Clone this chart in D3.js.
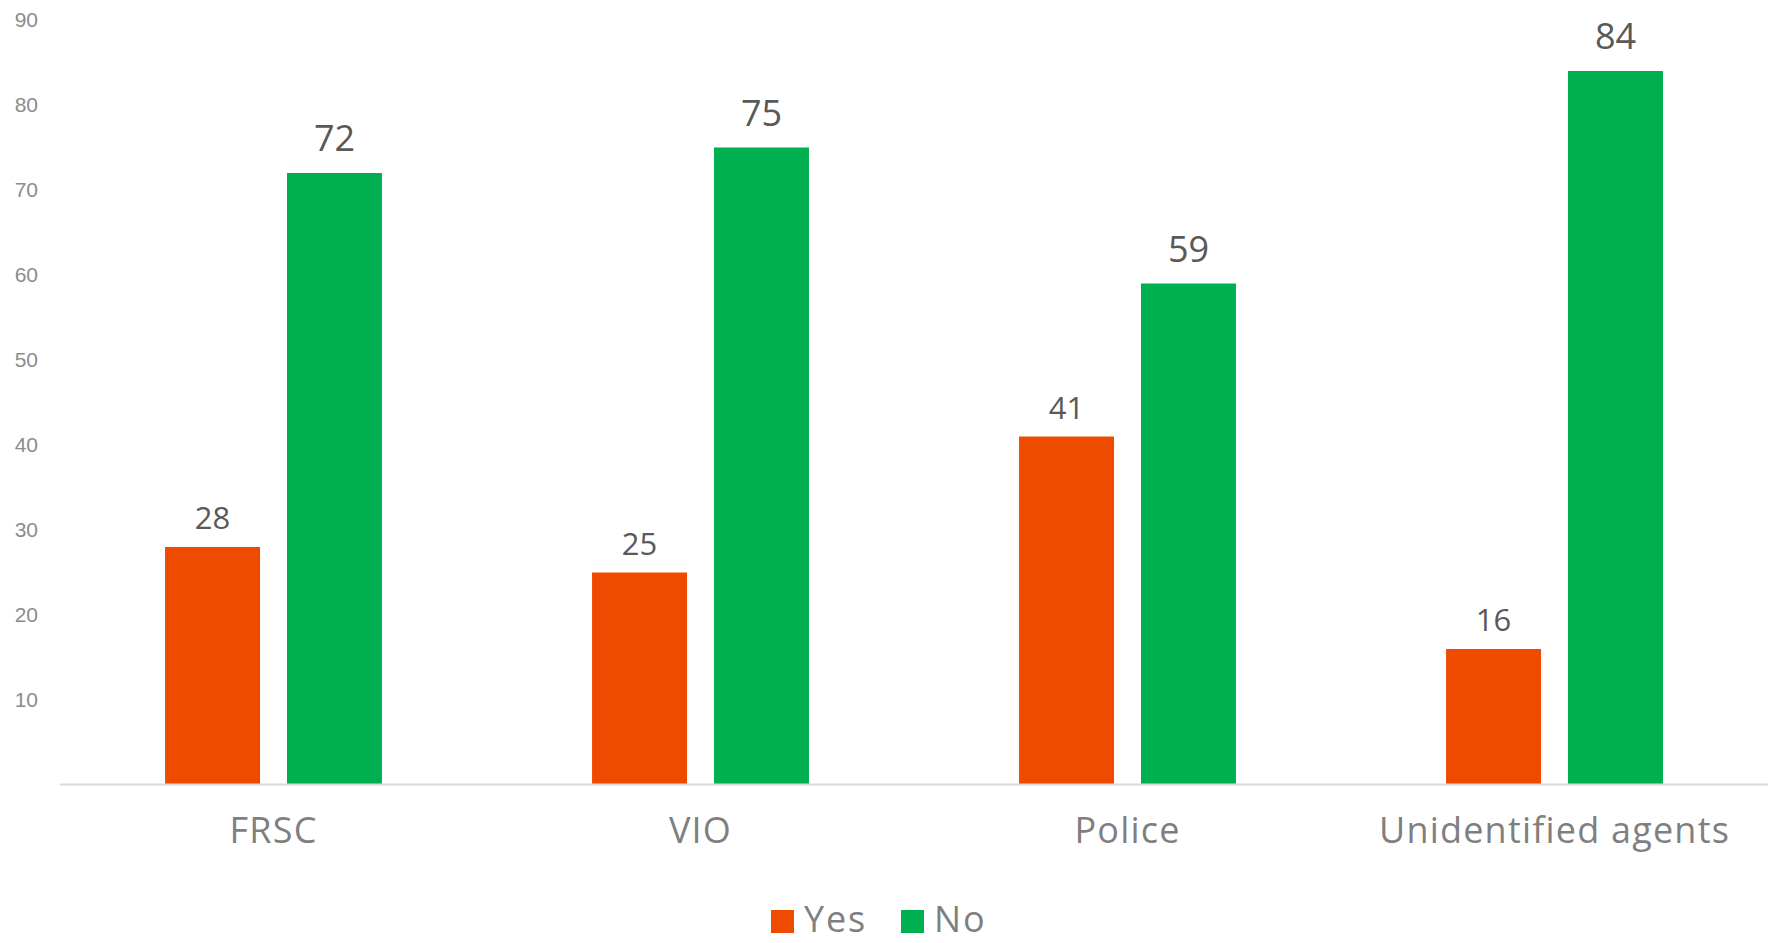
<!DOCTYPE html>
<html>
<head>
<meta charset="utf-8">
<script src="https://cdn.jsdelivr.net/npm/d3@7"></script>
<style>
  body { margin: 0; background: #fff; }
  text { font-family: "Century Gothic", "Open Sans", sans-serif; }
</style>
</head>
<body>
<div id="chart"></div>
<script>
// chart data
var categories = ["FRSC", "VIO", "Police", "Unidentified agents"];
var seriesNames = ["Yes", "No"];
var yesValues = [28, 25, 41, 16];
var noValues = [72, 75, 59, 84];
var yTicks = [10, 20, 30, 40, 50, 60, 70, 80, 90];
var colors = {Yes: "#EF4B00", No: "#00AF50"};

var W = 1774, H = 943;
var margin = {top: 20, right: 6, bottom: 158, left: 60},
    width = W - margin.left - margin.right,
    height = H - margin.top - margin.bottom;

var rows = categories.map(function(c, i) {
    return {cat: c, Yes: yesValues[i], No: noValues[i]};
});

var svg = d3.select("#chart").append("svg")
    .attr("width", W)
    .attr("height", H)
    .append("g")
    .attr("transform", "translate(" + margin.left + "," + margin.top + ")");

var x0 = d3.scaleBand()
    .domain(categories)
    .range([0, width]);

var bw = x0.bandwidth();
var x1 = d3.scaleBand()
    .domain(seriesNames)
    .range([bw * 0.246, bw * 0.754])
    .paddingInner(0.221);

var y = d3.scaleLinear()
    .domain([0, 90])
    .range([height, 0]);

// y tick labels (no axis line)
svg.append("g")
    .selectAll("text")
    .data(yTicks)
    .enter().append("text")
    .attr("x", -22)
    .attr("y", function(d) { return y(d); })
    .attr("dy", "0.35em")
    .attr("text-anchor", "end")
    .style("font-family", "'Liberation Sans', Arial, sans-serif")
    .style("font-size", "21px")
    .attr("fill", "#8c8c8c")
    .text(function(d) { return d; });

// bars
var groups = svg.selectAll(".grp")
    .data(rows)
    .enter().append("g")
    .attr("class", "grp")
    .attr("transform", function(d) { return "translate(" + x0(d.cat) + ",0)"; });

groups.selectAll("rect")
    .data(function(d) { return seriesNames.map(function(s) { return {key: s, value: d[s]}; }); })
    .enter().append("rect")
    .attr("x", function(d) { return x1(d.key); })
    .attr("y", function(d) { return y(d.value); })
    .attr("width", x1.bandwidth())
    .attr("height", function(d) { return height - y(d.value); })
    .attr("fill", function(d) { return colors[d.key]; });

groups.selectAll(".val")
    .data(function(d) { return seriesNames.map(function(s) { return {key: s, value: d[s]}; }); })
    .enter().append("text")
    .attr("class", "val")
    .attr("x", function(d) { return x1(d.key) + x1.bandwidth() / 2; })
    .attr("y", function(d) { return y(d.value) - (d.key == "No" ? 22 : 18); })
    .attr("text-anchor", "middle")
    .style("font-size", function(d) { return d.key == "No" ? "36px" : "31px"; })
    .attr("fill", "#595959")
    .text(function(d) { return d.value; });

// baseline
svg.append("line")
    .attr("x1", 0)
    .attr("x2", width)
    .attr("y1", height - 0.5)
    .attr("y2", height - 0.5)
    .attr("stroke", "#d9d9d9")
    .attr("stroke-width", 2);

// category labels
var xAxis = svg.append("g")
    .attr("transform", "translate(0," + height + ")")
    .call(d3.axisBottom(x0).tickSize(0).tickPadding(58));
xAxis.select(".domain").remove();
xAxis.selectAll("text")
    .attr("dy", 0)
    .style("font-family", "'Century Gothic', 'Open Sans', sans-serif")
    .style("font-size", "36px")
    .style("letter-spacing", "1.2px")
    .attr("fill", "#7f7f7f");

// legend
var legend = svg.append("g")
    .attr("transform", "translate(" + (771 - margin.left) + "," + (910 - margin.top) + ")");
var legendX = [0, 130];
seriesNames.forEach(function(s, i) {
    var g = legend.append("g").attr("transform", "translate(" + legendX[i] + ",0)");
    g.append("rect")
        .attr("width", 23)
        .attr("height", 23)
        .attr("fill", colors[s]);
    g.append("text")
        .attr("x", 33)
        .attr("y", 22)
        .style("font-size", "36px")
        .style("letter-spacing", "1.8px")
        .attr("fill", "#7f7f7f")
        .text(s);
});
</script>
</body>
</html>
